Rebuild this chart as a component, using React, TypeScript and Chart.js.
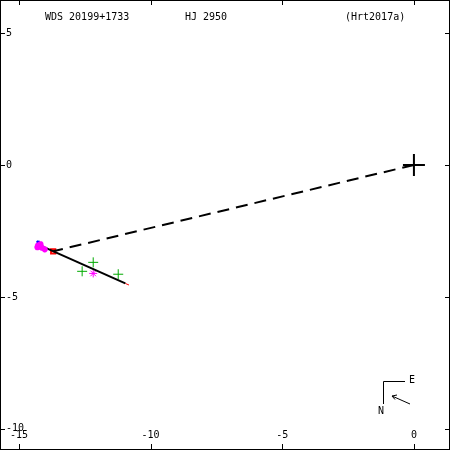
import React, { useEffect, useRef } from "react";
import { Chart, registerables } from "chart.js";

Chart.register(...registerables);

const xTicks = [-15, -10, -5, 0];
const yTicks = [5, 0, -5, -10];
const titleLeft = "WDS 20199+1733";
const titleMid = "HJ 2950";
const titleRight = "(Hrt2017a)";

const primary = [{ x: 0, y: 0 }];
const dashedLine = [{ x: 0, y: 0 }, { x: -13.7, y: -3.27 }];
const orbitLine = [{ x: -14.2, y: -3.05 }, { x: -10.96, y: -4.49 }];
const redTail = [{ x: -10.96, y: -4.49 }, { x: -10.82, y: -4.55 }];
const greenObs = [{ x: -12.6, y: -4.03 }, { x: -12.18, y: -3.69 }, { x: -11.23, y: -4.14 }];
const magentaStar = [{ x: -12.18, y: -4.11 }];
const magentaCluster = [
  { x: -14.28, y: -3.05 }, { x: -14.2, y: -3.1 }, { x: -14.12, y: -3.14 },
  { x: -14.02, y: -3.2 }, { x: -14.18, y: -3.0 }, { x: -14.3, y: -3.12 },
];
const blueObs = [{ x: -14.27, y: -2.93 }];
const lastPos = [{ x: -13.7, y: -3.27 }];

const FONT = "10px 'DejaVu Sans Mono', monospace";

const framePlugin = {
  id: "frame",
  afterDraw(chart: any) {
    const ctx = chart.ctx as CanvasRenderingContext2D;
    const xs = chart.scales.x;
    const ys = chart.scales.y;
    const W = chart.width, H = chart.height;
    ctx.save();
    ctx.strokeStyle = "#000";
    ctx.lineWidth = 1;
    ctx.strokeRect(0.5, 0.5, W - 1, H - 1);
    ctx.fillStyle = "#000";
    ctx.font = FONT;
    ctx.beginPath();
    for (const v of xTicks) {
      const px = Math.round(xs.getPixelForValue(v)) + 0.5;
      ctx.moveTo(px, 0); ctx.lineTo(px, 5);
      ctx.moveTo(px, H); ctx.lineTo(px, H - 6);
    }
    for (const v of yTicks) {
      const py = Math.round(ys.getPixelForValue(v)) + 0.5;
      ctx.moveTo(0, py); ctx.lineTo(5, py);
      ctx.moveTo(W, py); ctx.lineTo(W - 5, py);
    }
    ctx.stroke();
    ctx.textBaseline = "middle";
    ctx.textAlign = "left";
    for (const v of yTicks) {
      const py = ys.getPixelForValue(v);
      ctx.fillText(String(v), 6, py);
    }
    ctx.textAlign = "center";
    for (const v of xTicks) {
      const px = xs.getPixelForValue(v);
      ctx.fillText(String(v), px, H - 15);
    }
    ctx.textAlign = "left";
    ctx.fillText(titleLeft, 45, 17);
    ctx.fillText(titleMid, 185, 17);
    ctx.fillText(titleRight, 345, 17);
    // compass
    ctx.beginPath();
    ctx.moveTo(383.5, 404); ctx.lineTo(383.5, 381.5); ctx.lineTo(405, 381.5);
    ctx.moveTo(410, 404); ctx.lineTo(392, 396);
    ctx.moveTo(392, 396); ctx.lineTo(397, 395);
    ctx.moveTo(392, 396); ctx.lineTo(395, 399.5);
    ctx.stroke();
    ctx.fillText("E", 409, 380);
    ctx.fillText("N", 378, 411);
    ctx.restore();
  },
};

export default function App() {
  const ref = useRef<HTMLCanvasElement>(null);
  useEffect(() => {
    document.body.style.margin = "0";
    const chart = new Chart(ref.current!, {
      type: "scatter",
      data: {
        datasets: [
          { data: dashedLine, showLine: true, borderColor: "#000", borderWidth: 2, borderDash: [12, 7], pointRadius: 0 },
          { data: magentaCluster, pointStyle: "star", pointRadius: 3, borderColor: "#ff00ff", borderWidth: 2 },
          { data: orbitLine, showLine: true, borderColor: "#000", borderWidth: 2, pointRadius: 0 },
          { data: redTail, showLine: true, borderColor: "#ff0000", borderWidth: 1, pointRadius: 0 },
          { data: primary, pointStyle: "cross", pointRadius: 11, borderColor: "#000", borderWidth: 2 },
          { data: greenObs, pointStyle: "cross", pointRadius: 5, borderColor: "#00aa00", borderWidth: 1 },
          { data: magentaStar, pointStyle: "star", pointRadius: 4, borderColor: "#ff00ff", borderWidth: 1 },
          { data: blueObs, pointStyle: "crossRot", pointRadius: 2, borderColor: "#0000ff", borderWidth: 2 },
          { data: lastPos, pointStyle: "rect", pointRadius: 3, borderColor: "#ff0000", backgroundColor: "rgba(0,0,0,0)", borderWidth: 2 },
        ],
      },
      options: {
        animation: false,
        responsive: false,
        maintainAspectRatio: false,
        layout: { padding: 0, autoPadding: false },
        plugins: { legend: { display: false }, tooltip: { enabled: false } },
        scales: {
          x: { type: "linear", min: -15.72, max: 1.37, display: false },
          y: { type: "linear", min: -10.8, max: 6.25, display: false },
        },
      },
      plugins: [framePlugin],
    });
    return () => chart.destroy();
  }, []);
  return (
    <div style={{ position: "fixed", left: 0, top: 0, width: 450, height: 450, background: "#fff" }}>
      <canvas ref={ref} width={450} height={450} />
    </div>
  );
}
